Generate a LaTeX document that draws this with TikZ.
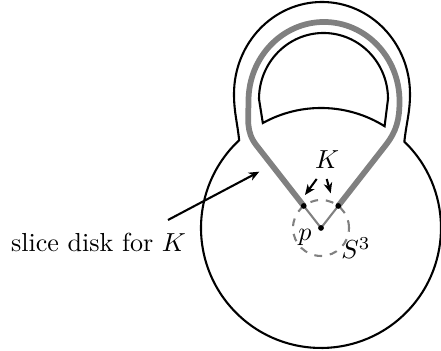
\documentclass[tikz,border=0pt]{standalone}
\usepackage{amsmath,amssymb}
\usepackage{tikz}
\usetikzlibrary{arrows.meta}

\begin{document}
\begin{tikzpicture}[x=0.3837pt, y=0.3837pt, thick,
	knot/.style={gray, line width=2.2pt},
	pointer/.style={-{Stealth[length=4pt, width=3.3pt, inset=1.2pt]}, thick}]
	\useasboundingbox (0,0) rectangle (441,351);
	\coordinate (p) at (321,123);
	\draw ([shift={(133:120)}]p) to[out=96, in=-90] (234,257) arc[start angle=180, end angle=0, x radius=88, y radius=92]
		to[out=-90, in=84] ([shift={(46:120)}]p) arc[start angle=46, end angle=-227, radius=120] -- cycle;
	\draw ([shift={(119:120)}]p) -- (259,252) arc[start angle=180, end angle=0, x radius=64.5, y radius=66]
		-- ([shift={(58:120)}]p) arc[start angle=58, end angle=119, radius=120] -- cycle;
	\draw[gray, dashed] (p) circle (28);
	\foreach \a/\n in {128/l, 52/r} {
		\coordinate (dot\n) at ([shift={(\a:28)}]p);
		\coordinate (bend\n) at ([shift={(\a:105)}]p);
		\draw[gray] (p) -- (dot\n);
	}
	\draw[knot] (dotl) -- (bendl) to[out=128, in=-90] (248.5,250)
		arc[start angle=180, end angle=0, x radius=75.5, y radius=79]
		to[out=-90, in=52] (bendr) -- (dotr);
	\foreach \n in {p, dotl, dotr} \fill (\n) circle (1.1pt);
	\node (plabel) at (305,114) {$p$};
	\node (sphere) at (356,103) {$S^3$};
	\node (knotlabel) at (327,191) {$K$};
	\coordinate (kl) at (316.7,172);
	\coordinate (kr) at (326.7,172);
	\coordinate (tipl) at (305,156);
	\coordinate (tipr) at (330.7,157.7);
	\draw[pointer] (kl) -- (tipl);
	\draw[pointer] (kr) -- (tipr);
	\node (slice) at (98.5,109) {slice disk for $K$};
	\coordinate (tail) at (168,131);
	\coordinate (head) at (259.3,179.3);
	\draw[pointer] (tail) -- (head);
\end{tikzpicture}
\end{document}
